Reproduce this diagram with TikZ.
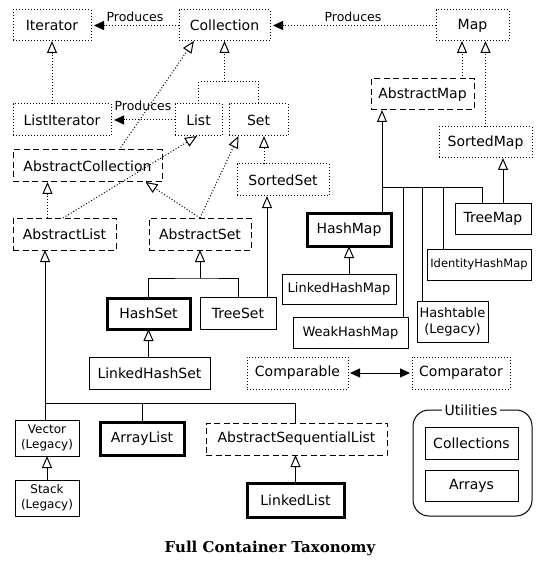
\documentclass[tikz,border=0pt]{standalone}
\usepackage{fontspec}
\newfontfamily\dv{DejaVu Sans}
\newfontfamily\dvs{DejaVu Serif}
\usetikzlibrary{arrows.meta}
\begin{document}
\begin{tikzpicture}[x=1pt,y=-1pt,
  every node/.style={inner sep=0pt, outer sep=0pt},
  bx/.style={draw, line width=1pt, minimum height=31pt, align=center, font=\dv\fontsize{14}{16}\selectfont},
  iface/.style={bx, dash pattern=on 1pt off 2pt},
  abst/.style={bx, dash pattern=on 6pt off 3.5pt},
  conc/.style={bx},
  heavy/.style={bx, line width=3pt},
  inh/.style={-{Triangle[open, length=12pt, width=10pt]}},
  dots/.style={dash pattern=on 1pt off 2pt},
  ln/.style={line width=1pt},
  prod/.style={ln, dots, -{Triangle[length=10pt, width=9pt]}, shorten >=3pt},
  lbl/.style={font=\dv\fontsize{12.5}{14}\selectfont},
]
\useasboundingbox[fill=white] (0,0) rectangle (545,561);

% interfaces
\node[iface, minimum width=78pt] (Iterator) at (52,25.5) {Iterator};
\node[iface, minimum width=91pt] (Collection) at (224.5,25.5) {Collection};
\node[iface, minimum width=73pt] (Map) at (472.5,25.5) {Map};
\node[iface, minimum width=98pt, minimum height=32pt] (ListIterator) at (62,120) {ListIterator};
\node[iface, minimum width=47pt, minimum height=32pt] (List) at (198.5,120) {List};
\node[iface, minimum width=59pt, minimum height=32pt] (Set) at (258.5,120) {Set};
\node[iface, minimum width=92pt, minimum height=32pt] (SortedSet) at (283,180) {SortedSet};
\node[iface, minimum width=93pt] (SortedMap) at (485.5,142.5) {SortedMap};
\node[iface, minimum width=101pt, minimum height=32pt] (Comparable) at (297.5,373) {Comparable};
\node[iface, minimum width=98pt, minimum height=32pt] (Comparator) at (461,373) {Comparator};

% abstract classes
\node[abst, minimum width=149pt, minimum height=32pt] (AbstractCollection) at (87.5,166) {AbstractCollection};
\node[abst, minimum width=103pt, minimum height=32pt] (AbstractList) at (64.5,234) {AbstractList};
\node[abst, minimum width=102pt, minimum height=32pt] (AbstractSet) at (200,234) {AbstractSet};
\node[abst, minimum width=103pt] (AbstractMap) at (422.5,94.5) {AbstractMap};
\node[abst, minimum width=181pt, minimum height=32pt] (ASL) at (296.5,439) {AbstractSequentialList};

% concrete classes
\node[heavy, minimum width=83pt] (HashSet) at (148.5,313.5) {HashSet};
\node[conc, minimum width=76pt, minimum height=32pt] (TreeSet) at (238,313) {TreeSet};
\node[conc, minimum width=121pt, minimum height=32pt] (LinkedHashSet) at (149.5,373) {LinkedHashSet};
\node[conc, minimum width=64pt, minimum height=36pt, font=\dv\fontsize{12}{15}\selectfont] (Vector) at (47,438) {Vector\\(Legacy)};
\node[conc, minimum width=64pt, minimum height=36pt, font=\dv\fontsize{12}{15}\selectfont] (Stack) at (47,498) {Stack\\(Legacy)};
\node[heavy, minimum width=84pt, minimum height=33pt] (ArrayList) at (142,439) {ArrayList};
\node[heavy, minimum width=97pt, minimum height=34pt] (LinkedList) at (295.5,500) {LinkedList};
\node[conc, minimum width=76pt] (TreeMap) at (493,218.5) {TreeMap};
\node[heavy, minimum width=84pt, minimum height=33pt] (HashMap) at (349,229.5) {HashMap};
\node[conc, minimum width=104pt, font=\dv\fontsize{11.5}{14}\selectfont] (IdentityHashMap) at (479,264.5) {IdentityHashMap};
\node[conc, minimum width=114pt, minimum height=30pt, font=\dv\fontsize{13}{15}\selectfont] (LinkedHashMap) at (339,289) {LinkedHashMap};
\node[conc, minimum width=71pt, minimum height=41pt, font=\dv\fontsize{13}{16}\selectfont] (Hashtable) at (452.5,321.5) {Hashtable\\(Legacy)};
\node[conc, minimum width=115pt, font=\dv\fontsize{13}{15}\selectfont] (WeakHashMap) at (350.5,332.5) {WeakHashMap};

% utilities
\node[draw, line width=1pt, rounded corners=16pt, minimum width=119pt, minimum height=106pt] (Util) at (472.5,463) {};
\node[fill=white, inner xsep=3pt, inner ysep=1pt, font=\dv\fontsize{14}{16}\selectfont] (UtilLbl) at (471,410) {Utilities};
\node[conc, minimum width=93pt, minimum height=32pt] (Collections) at (471.5,443) {Collections};
\node[conc, minimum width=93pt] (Arrays) at (471.5,485.5) {Arrays};

% produces
\draw[prod] (Collection.west) -- (Iterator.east) node[lbl, midway, above=4pt] (p1) {Produces};
\draw[prod] (Map.west) -- (Collection.east) node[lbl, midway, above=4pt] (p2) {Produces};
\draw[prod] (List.west) -- (ListIterator.east) node[lbl, midway, above=9pt] (p3) {Produces};

% interface inheritance
\draw[ln, dots, inh] (ListIterator.north -| Iterator.south) -- (Iterator.south);
\coordinate (cj) at (224.5,82);
\draw[ln, dots, inh] (cj) -- (Collection.south);
\draw[ln, dots] (List.north) |- (cj) -| (Set.north);
\draw[ln, dots, inh] ([xshift=31.5pt]AbstractCollection.north) -- ([xshift=-30.5pt]Collection.south);
\draw[ln, dots, inh] ([xshift=-1.5pt]AbstractList.north) -- ([xshift=-1.5pt]List.south);
\draw[ln, dots, inh] (AbstractSet.north) -- ([xshift=-20pt]Set.south);
\draw[ln, dots, inh] (AbstractSet.north) -- ([xshift=58pt]AbstractCollection.south);
\draw[ln, dots, inh] ([xshift=-17pt]AbstractList.north) -- ([xshift=-40pt]AbstractCollection.south);
\draw[ln, dots, inh] ([xshift=-19pt]SortedSet.north) -- ([xshift=5.5pt]Set.south);
\draw[ln, dots, inh] ([xshift=39.5pt]AbstractMap.north) -- ([xshift=-10.5pt]Map.south);
\draw[ln, dots, inh] (SortedMap.north) -- (SortedMap.north |- Map.south);

% class inheritance
\draw[ln, inh] ([xshift=29pt]TreeSet.north) -- ([xshift=-16pt]SortedSet.south);
\coordinate (asj) at (200,278);
\draw[ln, inh] (asj) -- (AbstractSet.south);
\draw[ln] (HashSet.north) |- (asj) -| (TreeSet.north);
\draw[ln, inh] (LinkedHashSet.north -| HashSet.south) -- (HashSet.south);

\coordinate (alj) at (45,403);
\draw[ln, inh] (Vector.north -| alj) -- (AbstractList.south -| alj);
\draw[ln] (alj) -| ([xshift=-1.5pt]ASL.north);
\draw[ln] (ArrayList.north) -- (ArrayList.north |- alj);
\draw[ln, inh] (Stack.north) -- (Vector.south);
\draw[ln, inh] (LinkedList.north) -- (LinkedList.north |- ASL.south);

\draw[ln, inh] ([xshift=10pt]TreeMap.north) -- ([xshift=10pt]TreeMap.north |- SortedMap.south);
\coordinate (amj) at (382,188);
\draw[ln, inh] ([xshift=33pt]HashMap.north) -- ([xshift=33pt]HashMap.north |- AbstractMap.south);
\draw[ln] (amj) -| ([xshift=-11pt]TreeMap.north);
\draw[ln] ([xshift=52.5pt]WeakHashMap.north) -- ([xshift=52.5pt]WeakHashMap.north |- amj);
\draw[ln] ([xshift=-30.5pt]Hashtable.north) -- ([xshift=-30.5pt]Hashtable.north |- amj);
\draw[ln] ([xshift=-36pt]IdentityHashMap.north) -- ([xshift=-36pt]IdentityHashMap.north |- amj);
\draw[ln, inh] (LinkedHashMap.north -| HashMap.south) -- (HashMap.south);

% comparable <-> comparator
\draw[ln, {Triangle[length=10pt, width=9pt]}-{Triangle[length=10pt, width=9pt]}, shorten <=2pt, shorten >=2pt] (Comparable.east) -- (Comparator.west);

\node[font=\dvs\bfseries\fontsize{15}{18}\selectfont] (title) at (270,548) {Full Container Taxonomy};
\end{tikzpicture}
\end{document}
